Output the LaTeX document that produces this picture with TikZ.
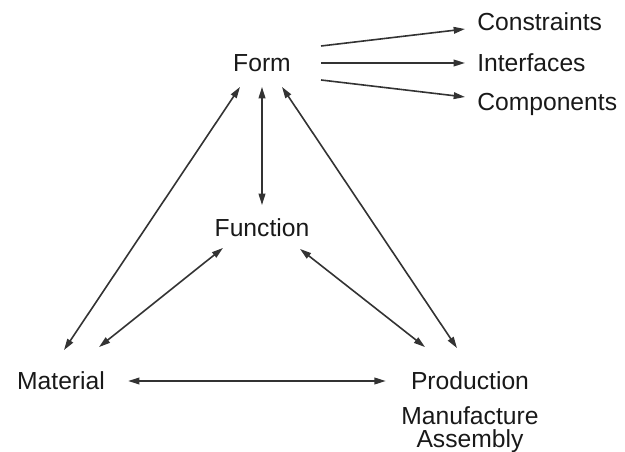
\documentclass[tikz,border=0pt]{standalone}
\usepackage{fontspec}
\setmainfont{Liberation Sans}
\usetikzlibrary{arrows.meta}

\begin{document}
\begin{tikzpicture}[x=0.75pt,y=-0.75pt]
\tikzset{
  word/.style={inner sep=0pt,text height=13pt,text depth=0pt,text=black!90,
    font=\fontsize{18.5}{21}\selectfont},
  tip/.tip={Triangle[length=8.5pt,width=5pt]},
  link/.style={draw=black!80,line width=1.2pt,-tip},
  both/.style={link,tip-tip},
}
\useasboundingbox (0,0) rectangle (625,452);
% the three aspects
\node[word] (form) at (262,63) {Form};
\node[word] (function) at (262,228) {Function};
\node[word] (material) at (61,381) {Material};
\node[word] (production) at (470,381) {Production};
\node[word] (manufacture) at (470,416) {Manufacture};
\node[word] (assembly) at (470,439) {Assembly};
% what form decides
\foreach \n/\t/\y in {constraints/Constraints/22,interfaces/Interfaces/63,components/Components/102}{
  \node[word,anchor=west] (\n) at (477,\y) {\t};
}
\foreach \n/\sy/\ty in {constraints/-17/7,interfaces/0/0,components/17/-5}{
  \draw[link] ([shift={(30,\sy)}]form.east) -- ([shift={(-12,\ty)}]\n.west);
}
% triangle
\draw[both] ([shift={(-22,15)}]form.south) -- ([shift={(3,-22)}]material.north);
\draw[both] ([shift={(0,15)}]form.south) -- ([shift={(0,-14)}]function.north);
\draw[both] ([shift={(20,15)}]form.south) -- ([shift={(-13,-24)}]production.north);
\draw[both] ([shift={(-39,11)}]function.south) -- ([shift={(38,-25)}]material.north);
\draw[both] ([shift={(38,12)}]function.south) -- ([shift={(-45,-25)}]production.north);
\draw[both] ([shift={(23,0)}]material.east) -- ([shift={(-25,0)}]production.west);
\end{tikzpicture}
\end{document}
